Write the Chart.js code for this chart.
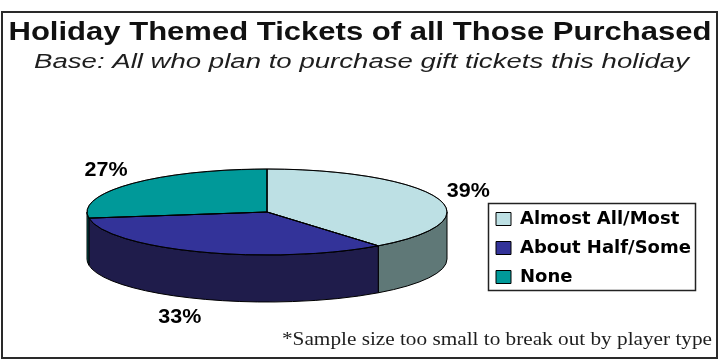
<!DOCTYPE html>
<html>
<head>
<meta charset="utf-8">
<script src="https://cdn.jsdelivr.net/npm/chart.js@4"></script>
<style>
  html, body { margin: 0; padding: 0; background: #fff; }
  #wrap { width: 726px; height: 360px; }
</style>
</head>
<body>
<div id="wrap"><canvas id="pieChart"></canvas></div>
<script>
const titleText = 'Holiday Themed Tickets of all Those Purchased';
const subtitleText = 'Base: All who plan to purchase gift tickets this holiday';
const noteText = '*Sample size too small to break out by player type';

const categories = ['Almost All/Most', 'About Half/Some', 'None'];
const shares = [39, 33, 27];

const topColors = ['#BDE0E4', '#333399', '#009999'];
const sideColors = ['#5F7877', '#1F1C4B', '#006262'];

const TILT = 43 / 180;  // vertical squash of the pie top
const DEPTH = 47;       // thickness of the pie wall

// text squeezed/stretched to a given width
function drawFitted(ctx, text, x, y, font, width, align, color, baseline) {
  ctx.save();
  ctx.font = font;
  const w = ctx.measureText(text).width;
  ctx.translate(x, y);
  ctx.scale(width / w, 1);
  ctx.textAlign = align;
  ctx.textBaseline = baseline || 'alphabetic';
  ctx.fillStyle = color;
  ctx.fillText(text, 0, 0);
  ctx.restore();
}

const pie3d = {
  id: 'pie3d',
  beforeDraw(chart) {
    const ctx = chart.ctx;
    ctx.save();
    ctx.strokeStyle = '#2a2a2a';
    ctx.lineWidth = 2;
    ctx.strokeRect(2, 12, 715, 346);
    ctx.restore();

    drawFitted(ctx, titleText, 360, 39.5, 'bold 25px "Liberation Sans"', 703, 'center', '#111');
    drawFitted(ctx, subtitleText, 361.5, 67.5, 'italic 20px "Liberation Sans"', 655, 'center', '#1e1e1e');
    drawFitted(ctx, noteText, 712, 344.5, '19px "Liberation Serif"', 430, 'right', '#1e1e1e');

    // legend sits inside its own box right of the pie
    const lg = chart.legend;
    lg.left = 485;
    lg.top = 199;
    lg.right = 705;
    lg.bottom = 310;
  },
  beforeDatasetsDraw(chart) {
    const ctx = chart.ctx;
    const arcs = chart.getDatasetMeta(0).data;
    // front wall of each slice (only the half facing the viewer)
    ctx.save();
    arcs.forEach((arc, i) => {
      const {x, y, startAngle, endAngle, outerRadius: r} = arc;
      const a1 = Math.max(startAngle, 0);
      const a2 = Math.min(endAngle, Math.PI);
      if (a2 <= a1) return;
      ctx.beginPath();
      ctx.ellipse(x, y, r, r * TILT, 0, a1, a2);
      ctx.ellipse(x, y + DEPTH, r, r * TILT, 0, a2, a1, true);
      ctx.closePath();
      ctx.fillStyle = sideColors[i];
      ctx.fill();
      ctx.lineWidth = 1;
      ctx.strokeStyle = '#000';
      ctx.stroke();
    });
    ctx.restore();
    // flatten the slices drawn by the controller
    const cy = arcs[0].y;
    ctx.save();
    ctx.translate(0, cy);
    ctx.scale(1, TILT);
    ctx.translate(0, -cy);
  },
  afterDatasetsDraw(chart) {
    const ctx = chart.ctx;
    ctx.restore();
    const arcs = chart.getDatasetMeta(0).data;
    ctx.save();
    ctx.lineWidth = 1;
    ctx.strokeStyle = '#000';
    arcs.forEach((arc) => {
      const {x, y, startAngle, endAngle, outerRadius: r} = arc;
      ctx.beginPath();
      ctx.moveTo(x, y);
      ctx.ellipse(x, y, r, r * TILT, 0, startAngle, endAngle);
      ctx.closePath();
      ctx.stroke();
    });
    ctx.restore();
    // percentage labels outside each slice
    arcs.forEach((arc, i) => {
      const {x, y, startAngle, endAngle, outerRadius: r} = arc;
      const mid = (startAngle + endAngle) / 2;
      const c = Math.cos(mid), s = Math.sin(mid);
      const lx = x + (r + 33) * c + (s > 0 ? -8 : 0);
      const ly = y + s * ((r + 10) * TILT + 18) + (s > 0 ? DEPTH : 0);
      drawFitted(ctx, shares[i] + '%', lx, ly, 'bold 20px "Liberation Sans"', 43, 'center', '#000', 'middle');
    });
  },
  afterDraw(chart) {
    const ctx = chart.ctx;
    ctx.save();
    ctx.strokeStyle = '#222';
    ctx.lineWidth = 1.5;
    ctx.strokeRect(488.5, 203.5, 207, 87);
    ctx.restore();
  }
};

new Chart(document.getElementById('pieChart'), {
  type: 'pie',
  data: {
    labels: categories,
    datasets: [{
      data: shares,
      backgroundColor: topColors,
      borderColor: '#000',
      borderWidth: 1,
      radius: 180,
      clip: false,
      hoverOffset: 0
    }]
  },
  options: {
    responsive: true,
    maintainAspectRatio: false,
    animation: false,
    events: [],
    layout: { padding: { left: 0, right: 192, top: 80, bottom: 16 } },
    plugins: {
      title: { display: false },
      tooltip: { enabled: false },
      legend: {
        position: 'chartArea',
        align: 'start',
        labels: {
          boxWidth: 15,
          boxHeight: 13,
          padding: 11,
          color: '#000',
          font: { family: 'DejaVu Sans', weight: 'bold', size: 18 }
        }
      }
    }
  },
  plugins: [pie3d]
});
</script>
</body>
</html>
